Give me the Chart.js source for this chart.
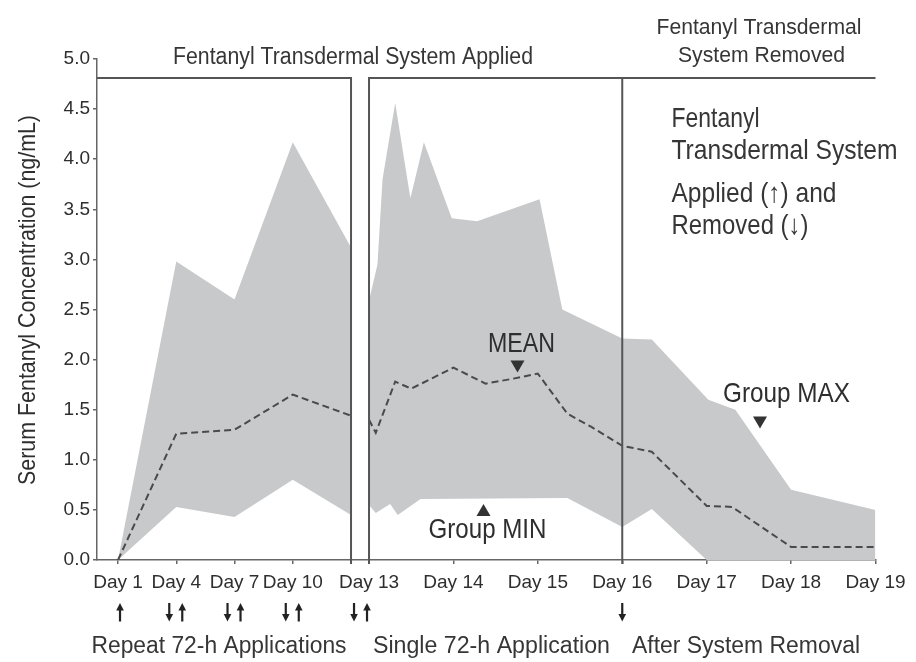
<!DOCTYPE html>
<html><head><meta charset="utf-8">
<script src="https://cdn.jsdelivr.net/npm/chart.js@4.4.1/dist/chart.umd.min.js"></script>
<style>html,body{margin:0;padding:0;background:#fff}#wrap{width:916px;height:662px;position:relative}</style>
</head><body><div id="wrap"><canvas id="c" width="916" height="662"></canvas></div>
<script>
// ---- data ----
const tickDays     = [1, 4, 7, 10, 13, 14, 15, 16, 17, 18, 19];
const tickSegments = [1, 1, 1, 1, 2, 2, 2, 2, 2, 2, 2];
const tickLabels   = ['Day 1','Day 4','Day 7','Day 10','Day 13','Day 14','Day 15','Day 16','Day 17','Day 18','Day 19'];

// Repeat 72-h applications (Day 1 - Day 13)
const repeatDays = [1, 4, 7, 10, 13];
const repeatMean = [0.0, 1.26, 1.30, 1.65, 1.44];
const repeatMax  = [0.0, 2.98, 2.60, 4.17, 3.12];
const repeatMin  = [0.0, 0.53, 0.43, 0.80, 0.45];

// Single 72-h application and after removal (Day 13 - Day 19)
const singleMeanDays = [13.0, 13.08, 13.31, 13.5, 14.0, 14.38, 14.71, 15.0, 15.35, 15.63, 16.0, 16.35, 17.0, 17.3, 18.0, 19.0];
const singleMean     = [1.40, 1.27, 1.78, 1.71, 1.92, 1.76, 1.81, 1.86, 1.46, 1.33, 1.14, 1.08, 0.54, 0.53, 0.13, 0.13];
const singleMaxDays  = [13.0, 13.1, 13.16, 13.31, 13.49, 13.65, 13.98, 14.28, 15.02, 15.29, 16.0, 16.35, 17.02, 17.34, 18.0, 19.0];
const singleMax      = [2.59, 2.95, 3.80, 4.56, 3.61, 4.17, 3.41, 3.38, 3.60, 2.50, 2.21, 2.20, 1.60, 1.50, 0.70, 0.50];
const singleMinDays  = [13.0, 13.08, 13.25, 13.34, 13.61, 15.35, 16.0, 16.35, 17.0, 18.0, 19.0];
const singleMin      = [0.55, 0.47, 0.56, 0.45, 0.61, 0.62, 0.33, 0.51, 0.0, 0.0, 0.0];

const boxTopValue = 4.81;

// ---- broken time axis: segment 1 (days 1-13) compressed, segment 2 (days 13-19) expanded ----
const GAP = 0.927, SEG2_SCALE = 4.347;
function pos(day, seg) { return seg === 1 ? day - 1 : 12 + GAP + (day - 13) * SEG2_SCALE; }
const toPts = (days, vals, seg) => days.map((d, i) => ({x: pos(d, seg), y: vals[i]}));

const FONT = '"Liberation Sans", Arial, sans-serif';
const FILL = '#c8c9cb';
const INK = '#2e2e2e';
const INK2 = '#363636';

function txt(ctx, s, x, y, size, width, align, color) {
  ctx.save();
  ctx.font = `${size}px ${FONT}`;
  const w = ctx.measureText(s).width;
  const sx = width ? width / w : 1;
  ctx.translate(x, y);
  ctx.scale(sx, 1);
  ctx.textAlign = align || 'center';
  ctx.textBaseline = 'alphabetic';
  ctx.fillStyle = color || INK;
  ctx.fillText(s, 0, 0);
  ctx.restore();
}
function arrow(ctx, cx, top, bottom, up) {
  const hw = 3.8, hh = 7.5;
  ctx.save();
  ctx.fillStyle = '#222'; ctx.strokeStyle = '#222'; ctx.lineWidth = 2.2;
  ctx.beginPath();
  if (up) { ctx.moveTo(cx, top + hh - 1); ctx.lineTo(cx, bottom); }
  else { ctx.moveTo(cx, top); ctx.lineTo(cx, bottom - hh + 1); }
  ctx.stroke();
  ctx.beginPath();
  if (up) { ctx.moveTo(cx, top); ctx.lineTo(cx - hw, top + hh); ctx.lineTo(cx + hw, top + hh); }
  else { ctx.moveTo(cx, bottom); ctx.lineTo(cx - hw, bottom - hh); ctx.lineTo(cx + hw, bottom - hh); }
  ctx.closePath(); ctx.fill();
  ctx.restore();
}
function tri(ctx, cx, cy, down) {
  const w = 7, h = 6;
  ctx.save(); ctx.fillStyle = '#333';
  ctx.beginPath();
  if (down) { ctx.moveTo(cx - w, cy - h); ctx.lineTo(cx + w, cy - h); ctx.lineTo(cx, cy + h); }
  else { ctx.moveTo(cx - w, cy + h); ctx.lineTo(cx + w, cy + h); ctx.lineTo(cx, cy - h); }
  ctx.closePath(); ctx.fill(); ctx.restore();
}

const overlay = {
  id: 'overlay',
  afterDraw(chart) {
    const {ctx, chartArea: ca, scales: {x, y}} = chart;
    const topY = y.getPixelForValue(boxTopValue);
    const x1 = x.getPixelForValue(pos(13, 1));
    const x2 = x.getPixelForValue(pos(13, 2));
    const x3 = x.getPixelForValue(pos(16, 2));
    ctx.save();
    ctx.strokeStyle = '#555'; ctx.lineWidth = 2;
    ctx.beginPath();
    ctx.moveTo(ca.left, topY); ctx.lineTo(x1, topY); ctx.lineTo(x1, ca.bottom + 4);
    ctx.moveTo(x2, ca.bottom + 4); ctx.lineTo(x2, topY); ctx.lineTo(ca.right, topY);
    ctx.moveTo(x3, topY); ctx.lineTo(x3, ca.bottom + 4);
    ctx.stroke();
    ctx.restore();

    // headings
    txt(ctx, 'Fentanyl Transdermal System Applied', 353, 63.5, 23, 360, 'center', INK2);
    txt(ctx, 'Fentanyl Transdermal', 759, 33.5, 22, 205, 'center', INK2);
    txt(ctx, 'System Removed', 761.5, 62, 22, 167, 'center', INK2);
    // side note
    txt(ctx, 'Fentanyl', 671.5, 126.5, 28, 88, 'left', INK2);
    txt(ctx, 'Transdermal System', 671.5, 158.5, 28, 226, 'left', INK2);
    txt(ctx, 'Applied (\u2191) and', 671.5, 202, 28, 165, 'left', INK2);
    txt(ctx, 'Removed (\u2193)', 671.5, 233.5, 28, 137, 'left', INK2);
    // annotations
    txt(ctx, 'MEAN', 521.5, 351.5, 28, 67, 'center', INK);
    tri(ctx, 517.5, 366.5, true);
    txt(ctx, 'Group MAX', 786.5, 401.5, 28, 127, 'center', INK);
    tri(ctx, 760, 422.5, true);
    txt(ctx, 'Group MIN', 487.5, 538, 27, 118, 'center', INK);
    tri(ctx, 483.5, 510, false);

    // y title
    ctx.save();
    ctx.translate(28, 300); ctx.rotate(-Math.PI / 2);
    ctx.font = `24px ${FONT}`;
    const yt = 'Serum Fentanyl Concentration (ng/mL)';
    const sx = 370 / ctx.measureText(yt).width;
    ctx.scale(sx, 1);
    ctx.textAlign = 'center'; ctx.textBaseline = 'middle'; ctx.fillStyle = INK;
    ctx.fillText(yt, 0, 0);
    ctx.restore();

    // application arrows
    const aTop = 603, aBot = 621.5;
    const dx = (d, s) => x.getPixelForValue(pos(d, s));
    arrow(ctx, dx(1, 1) + 2, aTop, aBot, true);
    [4, 7, 10].forEach(d => { const c = dx(d, 1); arrow(ctx, c - 7, aTop, aBot, false); arrow(ctx, c + 6, aTop, aBot, true); });
    const c13 = (x1 + x2) / 2 + 1;
    arrow(ctx, c13 - 7, aTop, aBot, false); arrow(ctx, c13 + 6, aTop, aBot, true);
    arrow(ctx, x3, aTop, aBot, false);

    // phase labels
    txt(ctx, 'Repeat 72-h Applications', 219, 653, 23, 255, 'center', INK2);
    txt(ctx, 'Single 72-h Application', 491.5, 653, 23, 237, 'center', INK2);
    txt(ctx, 'After System Removal', 746, 653, 23, 228, 'center', INK2);
  }
};

const bandLine = {borderColor: 'rgba(0,0,0,0)', borderWidth: 0, pointRadius: 0, tension: 0, order: 2};
const meanLine = {borderColor: '#4a4a4a', borderWidth: 2, borderDash: [7, 4], pointRadius: 0, tension: 0, fill: false, order: 0};

new Chart(document.getElementById('c'), {
  type: 'line',
  data: {
    datasets: [
      Object.assign({label: 'Group MAX', data: toPts(repeatDays, repeatMax, 1), fill: {target: 1}, backgroundColor: FILL}, bandLine),
      Object.assign({label: 'Group MIN', data: toPts(repeatDays, repeatMin, 1), fill: false}, bandLine),
      Object.assign({label: 'Group MAX', data: toPts(singleMaxDays, singleMax, 2), fill: {target: 3}, backgroundColor: FILL}, bandLine),
      Object.assign({label: 'Group MIN', data: toPts(singleMinDays, singleMin, 2), fill: false}, bandLine),
      Object.assign({label: 'MEAN', data: toPts(repeatDays, repeatMean, 1)}, meanLine),
      Object.assign({label: 'MEAN', data: toPts(singleMeanDays, singleMean, 2)}, meanLine)
    ]
  },
  options: {
    responsive: false,
    animation: false,
    layout: {padding: {top: 59, right: 40.5, bottom: 0, left: 0}},
    plugins: {legend: {display: false}, tooltip: {enabled: false}, title: {display: false}},
    scales: {
      x: {
        type: 'linear',
        min: -1.082, max: 39.01,
        afterBuildTicks: s => { s.ticks = tickDays.map((d, i) => ({value: pos(d, tickSegments[i])})); },
        afterFit: s => { s.height = 102; },
        ticks: {
          autoSkip: false, maxRotation: 0, minRotation: 0, padding: 7,
          color: INK, font: {family: FONT, size: 19},
          callback: (v, i) => tickLabels[i]
        },
        grid: {drawOnChartArea: false, drawTicks: true, tickLength: 4, color: '#666', lineWidth: 1.5},
        border: {color: '#666', width: 1.5}
      },
      y: {
        min: 0, max: 5,
        afterFit: s => { s.width = 97; },
        ticks: {stepSize: 0.5, padding: 3, color: INK, font: {family: FONT, size: 19}, callback: v => v.toFixed(1)},
        grid: {drawOnChartArea: false, drawTicks: true, tickLength: 4, color: '#666', lineWidth: 1.5},
        border: {color: '#666', width: 1.5}
      }
    }
  },
  plugins: [overlay]
});
</script>
</body></html>
